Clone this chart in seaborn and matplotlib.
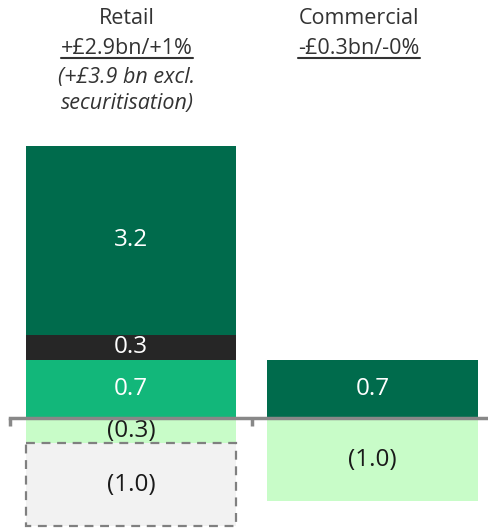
import numpy as np
import pandas as pd
import matplotlib
matplotlib.use("Agg")
import matplotlib.pyplot as plt
import seaborn as sns

sns.set_theme(style="white")
plt.rcParams['font.family'] = ['Open Sans', 'DejaVu Sans']

# ---- data ----
categories = ["Retail", "Commercial"]
# positive stack components (bottom -> top)
retail_pos = [0.7, 0.3, 3.2]
retail_pos_colors = ["#12B77A", "#262626", "#006B4C"]
retail_neg = [-0.3, -1.0]
commercial_pos = [0.7]
commercial_neg = [-1.0]
headers = ["Retail", "Commercial"]
subheaders = ["+£2.9bn/+1%", "-£0.3bn/-0%"]
retail_note = ["(+£3.9 bn excl.", "securitisation)"]


def fmt(v):
    return f"({abs(v):.1f})" if v < 0 else f"{v:.1f}"


# piecewise scale compresses the tall segment
K = 0.71
def fwd(y):
    y = np.asarray(y, dtype=float)
    return np.where(y <= 1.0, y, 1.0 + (y - 1.0) * K)
def inv(y):
    y = np.asarray(y, dtype=float)
    return np.where(y <= 1.0, y, 1.0 + (y - 1.0) / K)

W, H = 488, 532
fig = plt.figure(figsize=(W / 100, H / 100), dpi=100)
ax = fig.add_axes([0, 0, 1, (532 - 146) / 532])
ax.set_yscale('function', functions=(fwd, inv))

bw = 0.87
rows = []
bottom = 0.0
for v, c in zip(retail_pos, retail_pos_colors):
    rows.append(dict(xpos=0, val=v, base=bottom, color=c, txt="white", dashed=False))
    bottom += v
bottom = 0.0
neg_colors = ["#C8FCC8", "#F2F2F2"]
for i, v in enumerate(retail_neg):
    rows.append(dict(xpos=0, val=v, base=bottom, color=neg_colors[i], txt="#1a1a1a", dashed=(i == 1)))
    bottom += v
rows.append(dict(xpos=1, val=commercial_pos[0], base=0.0, color="#006B4C", txt="white", dashed=False))
rows.append(dict(xpos=1, val=commercial_neg[0], base=0.0, color="#C8FCC8", txt="#1a1a1a", dashed=False))

for r in rows:
    kw = dict(color=r["color"], width=bw, bottom=r["base"], linewidth=0)
    if r["dashed"]:
        kw.update(edgecolor="#808080", linewidth=1.6, linestyle=(0, (4, 3)))
    ax.bar(r["xpos"], r["val"], **kw)
    ymid = inv((fwd(r["base"]) + fwd(r["base"] + r["val"])) / 2)
    ax.text(r["xpos"], float(ymid), fmt(r["val"]), ha='center', va='center',
            color=r["txt"], fontsize=17.5)

ax.set_xlim(-131 / 241.5, (488 - 131) / 241.5)
ax.set_ylim(-1.37, 4.2)
ax.set_yticks([])
ax.set_xticks([-0.5, 0.5])
ax.set_xticklabels([])
for s in ["top", "right", "left"]:
    ax.spines[s].set_visible(False)
ax.spines["bottom"].set_position(("data", 0))
ax.spines["bottom"].set_bounds(-0.5, 1.6)
ax.spines["bottom"].set_color("#888888")
ax.spines["bottom"].set_linewidth(2.5)
ax.spines["bottom"].set_zorder(5)
ax.tick_params(axis='x', direction='out', length=6, width=2.5, color="#888888", bottom=True)
ax.set_facecolor("none")

# headers
tc = "#333333"
hx = [127 / W, 359 / W]
fs = 15.5
for i in range(2):
    fig.text(hx[i], 1 - 19 / H, headers[i], ha='center', va='center', fontsize=fs, color=tc)
    fig.text(hx[i], 1 - 48 / H, subheaders[i], ha='center', va='center', fontsize=fs, color=tc)
fig.canvas.draw()
r = fig.canvas.get_renderer()
for t in list(fig.texts):
    if t.get_text() in subheaders:
        bb = t.get_window_extent(renderer=r)
        fig.add_artist(plt.Line2D([bb.x0 / W, bb.x1 / W], [(bb.y0 + 1) / H] * 2,
                                  color=tc, linewidth=1.5))
fig.text(hx[0], 1 - 77 / H, retail_note[0], ha='center', va='center', fontsize=fs,
         color=tc, style='italic')
fig.text(hx[0], 1 - 104 / H, retail_note[1], ha='center', va='center', fontsize=fs,
         color=tc, style='italic')

fig.savefig("out.png", dpi=100, facecolor="white")
